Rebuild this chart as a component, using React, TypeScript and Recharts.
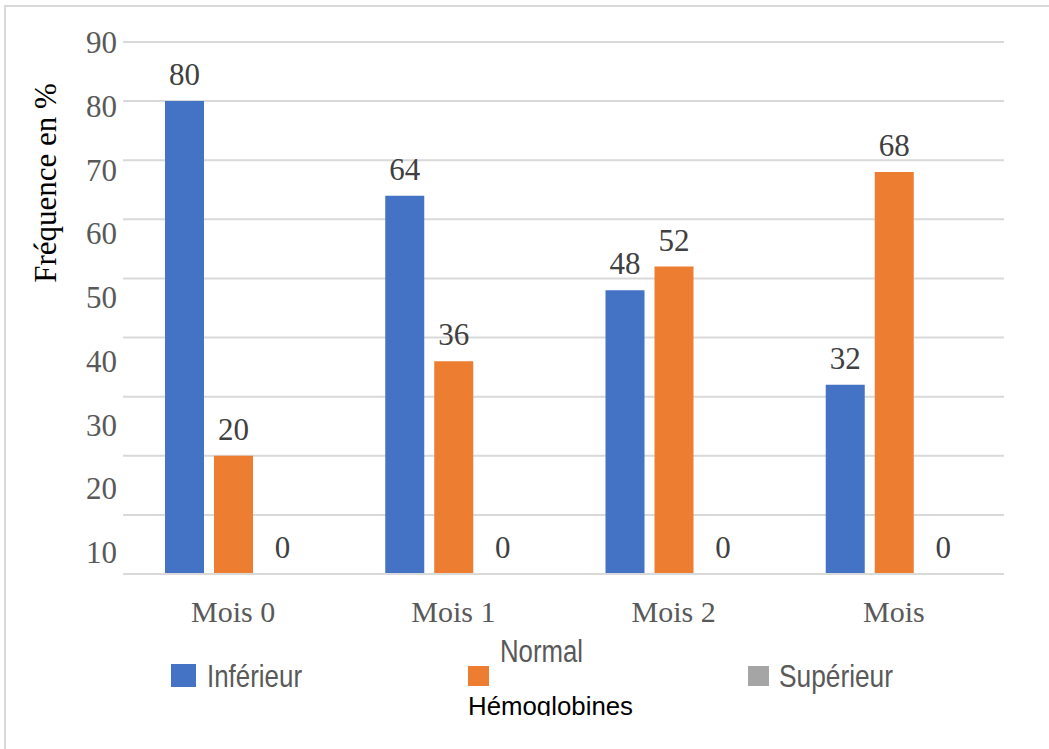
import React from 'react';
import { ComposedChart, Bar, Line, XAxis, YAxis, CartesianGrid, LabelList } from 'recharts';

const categories = ['Mois 0', 'Mois 1', 'Mois 2', 'Mois'];
const inferieur = [80, 64, 48, 32];
const normal = [20, 36, 52, 68];
const superieur = [0, 0, 0, 0];
const gridTicks = [0, 10, 20, 30, 40, 50, 60, 70, 80, 90];
const yTickLabels = [10, 20, 30, 40, 50, 60, 70, 80, 90];
const seriesKeys = ['inf', 'nor', 'sup'];
const seriesNames = ['Inférieur', 'Normal', 'Supérieur'];
const seriesColors = ['#4472C4', '#ED7D31', '#A5A5A5'];
const yTitle = 'Fréquence en %';
const xTitle = 'Hémoglobines';

const data = categories.map((c, i) => ({
  name: c,
  inf: inferieur[i],
  nor: normal[i],
  sup: superieur[i],
}));

const SERIF = "'Liberation Serif', 'Times New Roman', serif";
const NARROW = "'Liberation Sans Narrow', 'Arial Narrow', 'Liberation Sans', Arial, sans-serif";
const SANS = "'Liberation Sans', Arial, sans-serif";

export default function App() {
  return (
    <div
      style={{
        position: 'absolute',
        left: 0,
        top: 0,
        width: 1049,
        height: 749,
        overflow: 'hidden',
        background: '#ffffff',
      }}
    >
      <div
        style={{
          position: 'absolute',
          left: 4,
          top: 5,
          width: 1100,
          height: 800,
          border: '2px solid #d9d9d9',
          boxSizing: 'border-box',
        }}
      />
      <div style={{ position: 'absolute', left: 0, top: 0 }}>
        <ComposedChart
          width={1049}
          height={749}
          data={data}
          margin={{ top: 42, right: 45, bottom: 135, left: 63 }}
          barCategoryGap={42}
          barGap={10}
        >
          <CartesianGrid yAxisId="v" vertical={false} stroke="#d9d9d9" strokeWidth={2} />
          <XAxis
            dataKey="name"
            interval={0}
            height={40}
            axisLine={{ stroke: '#d9d9d9', strokeWidth: 2 }}
            tickLine={false}
            tickSize={0}
            tickMargin={27}
            tick={{ fill: '#595959', fontSize: 30, fontFamily: SERIF }}
          />
          <YAxis yAxisId="v" hide type="number" domain={[0, 90]} ticks={gridTicks} />
          <YAxis
            yAxisId="lbl"
            type="number"
            domain={[6.55, 90]}
            allowDataOverflow
            ticks={yTickLabels}
            interval={0}
            width={60}
            axisLine={false}
            tickLine={false}
            tickSize={0}
            tickMargin={6}
            tick={{ fill: '#595959', fontSize: 31, fontFamily: SERIF }}
          />
          {seriesKeys.map((k, i) => (
            <Bar
              key={k}
              yAxisId="v"
              dataKey={k}
              name={seriesNames[i]}
              fill={seriesColors[i]}
              minPointSize={0.1}
              isAnimationActive={false}
            >
              <LabelList
                dataKey={k}
                position="top"
                offset={16}
                fill="#404040"
                fontSize={31}
                fontFamily={SERIF}
              />
            </Bar>
          ))}
          <Line
            yAxisId="lbl"
            dataKey="inf"
            stroke="none"
            dot={false}
            activeDot={false}
            legendType="none"
            isAnimationActive={false}
          />
        </ComposedChart>
      </div>
      <svg
        width={1049}
        height={749}
        style={{ position: 'absolute', left: 0, top: 0, pointerEvents: 'none' }}
      >
        <defs>
          <clipPath id="xtitleclip">
            <rect x={0} y={0} width={1049} height={716} />
          </clipPath>
        </defs>
        <text
          transform="translate(56,183) rotate(-90)"
          textAnchor="middle"
          fontFamily={SERIF}
          fontSize={31}
          fill="#000000"
        >
          {yTitle}
        </text>
        <rect x={171} y={664} width={25} height={23} fill={seriesColors[0]} />
        <text x={207} y={687} fontFamily={NARROW} fontSize={32} fill="#595959" textLength={95} lengthAdjust="spacingAndGlyphs">
          {seriesNames[0]}
        </text>
        <rect x={468} y={666} width={21} height={20} fill={seriesColors[1]} />
        <text x={500} y={662} fontFamily={NARROW} fontSize={31} fill="#595959" textLength={83} lengthAdjust="spacingAndGlyphs">
          {seriesNames[1]}
        </text>
        <rect x={748} y={666} width={21} height={20} fill={seriesColors[2]} />
        <text x={779} y={687} fontFamily={NARROW} fontSize={32} fill="#595959" textLength={114} lengthAdjust="spacingAndGlyphs">
          {seriesNames[2]}
        </text>
        <g clipPath="url(#xtitleclip)">
          <text x={468} y={715} fontFamily={SANS} fontSize={26} fill="#000000" textLength={165} lengthAdjust="spacingAndGlyphs">
            {xTitle}
          </text>
        </g>
      </svg>
    </div>
  );
}
